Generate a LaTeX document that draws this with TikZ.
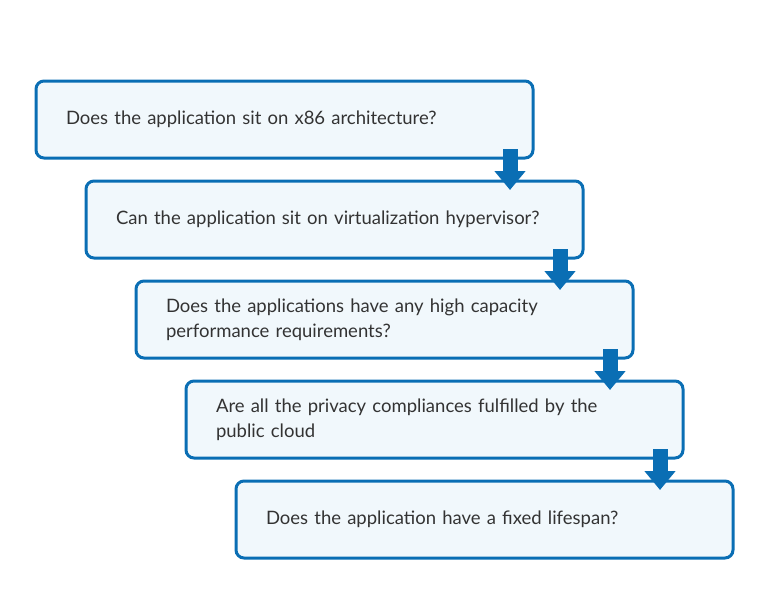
\documentclass[tikz,border=0pt]{standalone}
\usepackage{fontspec}
\setmainfont{Lato}
\usetikzlibrary{arrows.meta}

\definecolor{boxblue}{HTML}{0A6EB4}
\definecolor{boxfill}{HTML}{F1F8FC}
\definecolor{qtext}{HTML}{333333}

\tikzset{
    question/.style={draw=boxblue, fill=boxfill, line width=3pt, rounded corners=8pt,
        minimum width=497pt, minimum height=77pt, text width=437pt, inner xsep=30pt,
        outer sep=0pt, align=left, text=qtext, font=\fontsize{18.5}{25}\selectfont},
    flowarrow/.style={draw=boxblue, line width=15pt, -{Triangle[width=30pt,length=19pt]}}
}

\begin{document}
\begin{tikzpicture}[x=1pt,y=-1pt]
    \useasboundingbox (0,0) rectangle (770,600);

    \node[question] (q1) at (284.5,119.5) {Does the application sit on x86 architecture?};
    \node[question] (q2) at (334.5,219.5) {Can the application sit on virtualization hypervisor?};
    \node[question] (q3) at (384.5,319.5) {Does the applications have any high capacity\\performance requirements?};
    \node[question] (q4) at (434.5,419.5) {Are all the privacy compliances fulfilled by the\\public cloud};
    \node[question] (q5) at (484.5,519.5) {Does the application have a fixed lifespan?};

    % arrows down the steps
    \draw[flowarrow] ([xshift=-23pt,yshift=9pt]q1.south east) -- ([xshift=-73pt,yshift=-9pt]q2.north east);
    \draw[flowarrow] ([xshift=-23pt,yshift=9pt]q2.south east) -- ([xshift=-73pt,yshift=-9pt]q3.north east);
    \draw[flowarrow] ([xshift=-23pt,yshift=9pt]q3.south east) -- ([xshift=-73pt,yshift=-9pt]q4.north east);
    \draw[flowarrow] ([xshift=-23pt,yshift=9pt]q4.south east) -- ([xshift=-73pt,yshift=-9pt]q5.north east);
\end{tikzpicture}
\end{document}
